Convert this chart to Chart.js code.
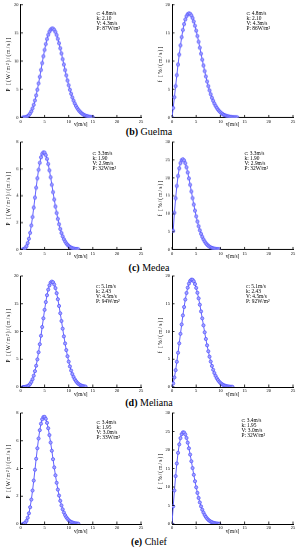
<!DOCTYPE html>
<html>
<head>
<meta charset="utf-8">
<script src="https://cdn.jsdelivr.net/npm/chart.js@4.4.0/dist/chart.umd.min.js"></script>
<style>
  body { margin: 0; background: #fff; }
  #figura { position: relative; width: 300px; height: 550px; overflow: hidden; font-family: "Liberation Serif", serif; color: #000; }
  .panel { position: absolute; }
  .nota { position: absolute; font-size: 5.4px; line-height: 5px; white-space: nowrap; }
  .ytitulo { position: absolute; font-size: 5.5px; letter-spacing: 1.1px; white-space: nowrap; transform: translate(-50%, -50%) rotate(-90deg); }
  .pie { position: absolute; left: 0; width: 298px; text-align: center; font-size: 10px; line-height: 11px; }
</style>
</head>
<body>
<div id="figura"></div>
<script>
// wind speed of each point [m/s]
const speeds = [0, 0.25, 0.5, 0.75, 1, 1.25, 1.5, 1.75, 2, 2.25, 2.5, 2.75, 3, 3.25, 3.5, 3.75,
  4, 4.25, 4.5, 4.75, 5, 5.25, 5.5, 5.75, 6, 6.25, 6.5, 6.75, 7, 7.25, 7.5, 7.75,
  8, 8.25, 8.5, 8.75, 9, 9.25, 9.5, 9.75, 10, 10.25, 10.5, 10.75, 11, 11.25, 11.5, 11.75,
  12, 12.25, 12.5, 12.75, 13, 13.25, 13.5, 13.75, 14, 14.25, 14.5, 14.75, 15];

// power density P [(W/m2)/(m/s)] and frequency f [%/(m/s)]
const guelmaP = [null, null, 0, 0.01, 0.05, 0.11, 0.23, 0.43, 0.71, 1.10, 1.61, 2.25, 3.02, 3.92, 4.93, 6.04,
  7.21, 8.43, 9.65, 10.85, 11.98, 13.01, 13.91, 14.65, 15.21, 15.58, 15.76, 15.76, 15.54, 15.16, 14.63, 13.94,
  13.16, 12.27, 11.35, 10.34, 9.39, 8.41, 7.47, 6.56, 5.72, 4.93, 4.22, 3.57, 3.00, 2.50, 2.06, 1.69,
  1.37, 1.10, 0.88, 0.70, 0.55, 0.42, 0.32, 0.25, 0.19, 0.14, 0.11, 0.08, 0.06];
const guelmaF = [0, 1.69, 3.60, 5.57, 7.51, 9.39, 11.16, 12.78, 14.24, 15.51, 16.56, 17.38, 17.97, 18.33, 18.47, 18.39,
  18.10, 17.64, 17.02, 16.26, 15.39, 14.44, 13.43, 12.38, 11.31, 10.25, 9.22, 8.23, 7.28, 6.39, 5.57, 4.81,
  4.13, 3.51, 2.97, 2.48, 2.07, 1.71, 1.40, 1.14, 0.92, 0.74, 0.59, 0.46, 0.36, 0.28, 0.22, 0.17,
  0.13, 0.10, 0.07, 0.05, 0.04, 0.03, 0.02];

const medeaP = [null, null, 0.01, 0.04, 0.11, 0.25, 0.48, 0.80, 1.24, 1.79, 2.42, 3.12, 3.86, 4.60, 5.30, 5.93,
  6.45, 6.86, 7.12, 7.23, 7.21, 7.03, 6.74, 6.36, 5.89, 5.38, 4.82, 4.27, 3.72, 3.20, 2.72, 2.28,
  1.88, 1.53, 1.23, 0.98, 0.77, 0.60, 0.46, 0.35, 0.26, 0.19, 0.14, 0.10, 0.07, 0.05, 0.04, 0.03, 0.02];
const medeaF = [null, 5.2, 10.25, 14.29, 17.73, 20.52, 22.65, 24.11, 24.94, 25.17, 24.86, 24.09, 22.94, 21.50, 19.84, 18.05,
  16.20, 14.35, 12.55, 10.84, 9.26, 7.80, 6.51, 5.37, 4.38, 3.54, 2.82, 2.23, 1.74, 1.35, 1.03, 0.79,
  0.59, 0.44, 0.32, 0.24, 0.17, 0.12, 0.09, 0.06];

const melianaP = [null, null, 0, 0.01, 0.03, 0.08, 0.17, 0.32, 0.56, 0.92, 1.40, 2.04, 2.85, 3.83, 4.97, 6.27,
  7.71, 9.23, 10.81, 12.38, 13.90, 15.30, 16.54, 17.55, 18.31, 18.80, 18.99, 18.88, 18.47, 17.82, 16.91, 15.82,
  14.60, 13.28, 11.89, 10.51, 9.12, 7.85, 6.65, 5.55, 4.57, 3.71, 2.97, 2.34, 1.82, 1.40, 1.06, 0.79,
  0.58, 0.42, 0.30, 0.22, 0.15, 0.10, 0.07];
const melianaF = [0, 0.64, 1.72, 3.04, 4.55, 6.17, 7.87, 9.58, 11.27, 12.90, 14.41, 15.76, 16.94, 17.90, 18.63, 19.11,
  19.34, 19.32, 19.05, 18.56, 17.86, 16.98, 15.97, 14.83, 13.62, 12.37, 11.11, 9.86, 8.65, 7.51, 6.44, 5.46,
  4.58, 3.80, 3.11, 2.52, 2.01, 1.59, 1.25, 0.96, 0.73, 0.55, 0.41, 0.30, 0.22, 0.16, 0.11, 0.08,
  0.05, 0.04, 0.03];

const chlefP = [null, null, 0.01, 0.03, 0.10, 0.23, 0.45, 0.77, 1.21, 1.76, 2.41, 3.13, 3.91, 4.70, 5.46, 6.16,
  6.76, 7.23, 7.55, 7.71, 7.72, 7.58, 7.29, 6.90, 6.41, 5.87, 5.28, 4.67, 4.08, 3.51, 2.97, 2.48,
  2.05, 1.67, 1.34, 1.06, 0.83, 0.64, 0.49, 0.37, 0.27, 0.20, 0.15, 0.11, 0.08, 0.05, 0.04, 0.03, 0.02];
const chlefF = [0, 4.77, 9.06, 12.94, 16.36, 19.23, 21.52, 23.21, 24.28, 24.77, 24.73, 24.20, 23.26, 21.99, 20.46, 18.76,
  16.96, 15.12, 13.30, 11.56, 9.92, 8.41, 7.04, 5.83, 4.77, 3.86, 3.09, 2.44, 1.91, 1.48, 1.13, 0.86,
  0.64, 0.48, 0.35, 0.25, 0.18, 0.13, 0.09, 0.06];

const titleP = "P [(W/m²)/(m/s)]";
const titleF = "f [%/(m/s)]";

const rows = [
  { top: 0, padTop: 4.5, height: 126.5, caption: "<b>(b)</b> Guelma", captionTop: 126 },
  { top: 137, padTop: 5, height: 121.5, caption: "<b>(c)</b> Medea", captionTop: 261.5 },
  { top: 271, padTop: 5, height: 126, caption: "<b>(d)</b> Meliana", captionTop: 397 },
  { top: 407.5, padTop: 5, height: 126, caption: "<b>(e)</b> Chlef", captionTop: 535.5 },
];
const cols = [
  { left: 0, padLeft: 4, yWidth: 16.5, padRight: 9, titleX: 7.5 },
  { left: 150, padLeft: 4, yWidth: 18, padRight: 7, titleX: 160 },
];

const panels = [
  { row: 0, col: 0, values: guelmaP, yMax: 20, yStep: 5, yTitle: titleP, note: ["c: 4.8m/s", "k: 2.10", "V: 4.3m/s", "P: 87W/m²"], noteX: 96.5, noteY: 10.5 },
  { row: 0, col: 1, values: guelmaF, yMax: 20, yStep: 5, yTitle: titleF, note: ["c: 4.8m/s", "k: 2.10", "V: 4.3m/s", "P: 86W/m²"], noteX: 246.5, noteY: 10.5 },
  { row: 1, col: 0, values: medeaP, yMax: 8, yStep: 2, yTitle: titleP, note: ["c: 3.3m/s", "k: 1.90", "V: 2.9m/s", "P: 32W/m²"], noteX: 92.5, noteY: 150.5 },
  { row: 1, col: 1, values: medeaF, yMax: 30, yStep: 5, yTitle: titleF, note: ["c: 3.3m/s", "k: 1.90", "V: 2.9m/s", "P: 32W/m²"], noteX: 244.5, noteY: 150.5 },
  { row: 2, col: 0, values: melianaP, yMax: 20, yStep: 5, yTitle: titleP, note: ["c: 5.1m/s", "k: 2.43", "V: 4.5m/s", "P: 94W/m²"], noteX: 96, noteY: 283.5 },
  { row: 2, col: 1, values: melianaF, yMax: 20, yStep: 5, yTitle: titleF, note: ["c: 5.1m/s", "k: 2.43", "V: 4.5m/s", "P: 92W/m²"], noteX: 246, noteY: 283.5 },
  { row: 3, col: 0, values: chlefP, yMax: 8, yStep: 2, yTitle: titleP, note: ["c: 3.4m/s", "k: 1.95", "V: 3.0m/s", "P: 33W/m²"], noteX: 96.5, noteY: 419.5 },
  { row: 3, col: 1, values: chlefF, yMax: 30, yStep: 5, yTitle: titleF, note: ["c: 3.4m/s", "k: 1.95", "V: 3.0m/s", "P: 32W/m²"], noteX: 241.5, noteY: 417.5 },
];

const tickFont = { family: "Liberation Serif", size: 4.5 };
const xTitleFont = { family: "Liberation Serif", size: 5.2, lineHeight: 1 };

// tecplot style ticks pointing into the plot
const inwardTicks = {
  id: "inwardTicks",
  afterDraw(chart) {
    const { ctx, chartArea, scales } = chart;
    ctx.save();
    ctx.strokeStyle = "#000";
    ctx.lineWidth = 0.8;
    ctx.beginPath();
    scales.x.ticks.forEach((t) => {
      const px = scales.x.getPixelForValue(t.value);
      ctx.moveTo(px, chartArea.bottom);
      ctx.lineTo(px, chartArea.bottom - 2.5);
    });
    scales.y.ticks.forEach((t) => {
      const py = scales.y.getPixelForValue(t.value);
      ctx.moveTo(chartArea.left, py);
      ctx.lineTo(chartArea.left + 2.5, py);
    });
    ctx.stroke();
    ctx.restore();
  },
};

const figura = document.getElementById("figura");

rows.forEach((r) => {
  const pie = document.createElement("div");
  pie.className = "pie";
  pie.style.top = r.captionTop + "px";
  pie.innerHTML = r.caption;
  figura.appendChild(pie);
});

panels.forEach((p) => {
  const r = rows[p.row];
  const c = cols[p.col];

  const div = document.createElement("div");
  div.className = "panel";
  div.style.left = c.left + "px";
  div.style.top = r.top + "px";
  div.style.width = "150px";
  div.style.height = r.height + "px";
  const canvas = document.createElement("canvas");
  div.appendChild(canvas);
  figura.appendChild(div);

  const puntos = p.values.map((v, i) => ({ x: speeds[i], y: v }));

  new Chart(canvas, {
    type: "line",
    data: {
      datasets: [
        {
          data: puntos,
          borderColor: "#6262ff",
          borderWidth: 1,
          pointRadius: 1.6,
          pointBackgroundColor: "#a4a4ff",
          pointBorderColor: "#5050ff",
          pointBorderWidth: 0.7,
          tension: 0,
          spanGaps: false,
        },
      ],
    },
    options: {
      responsive: true,
      maintainAspectRatio: false,
      animation: false,
      layout: { padding: { left: c.padLeft, right: c.padRight, top: r.padTop, bottom: 0 } },
      plugins: { legend: { display: false }, tooltip: { enabled: false } },
      scales: {
        x: {
          type: "linear",
          min: 0,
          max: 25,
          ticks: { stepSize: 5, font: tickFont, color: "#000", padding: 1.5, maxRotation: 0 },
          grid: { display: false, drawTicks: false },
          border: { display: true, color: "#000", width: 1 },
          title: { display: true, text: "v[m/s]", font: xTitleFont, color: "#000", padding: 0 },
          afterFit: (scale) => { scale.height = 10; },
        },
        y: {
          min: 0,
          max: p.yMax,
          ticks: { stepSize: p.yStep, font: tickFont, color: "#000", padding: 2 },
          grid: { display: false, drawTicks: false },
          border: { display: true, color: "#000", width: 1 },
          afterFit: (scale) => { scale.width = c.yWidth; },
        },
      },
    },
    plugins: [inwardTicks],
  });

  const yt = document.createElement("div");
  yt.className = "ytitulo";
  yt.style.left = c.titleX + "px";
  yt.style.top = (r.top + r.padTop + (r.height - r.padTop - 10) / 2 + 3) + "px";
  yt.textContent = p.yTitle;
  figura.appendChild(yt);

  const nota = document.createElement("div");
  nota.className = "nota";
  nota.style.left = p.noteX + "px";
  nota.style.top = p.noteY + "px";
  nota.innerHTML = p.note.join("<br>");
  figura.appendChild(nota);
});
</script>
</body>
</html>
